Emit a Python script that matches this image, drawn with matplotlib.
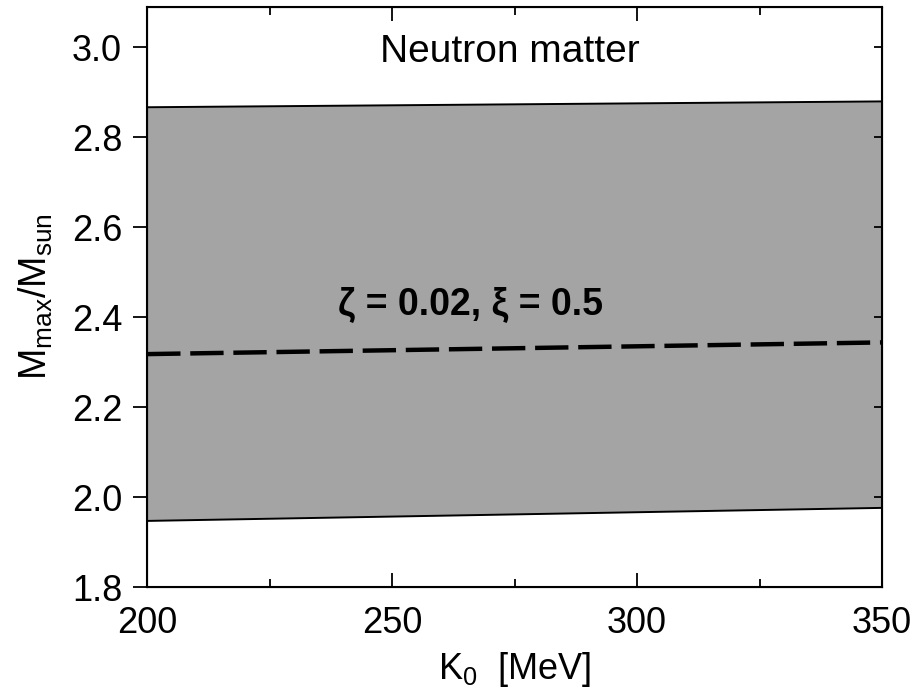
import matplotlib
matplotlib.use('Agg')
import matplotlib.pyplot as plt

plt.rcParams['font.family'] = ['Liberation Sans', 'DejaVu Sans']
plt.rcParams['mathtext.default'] = 'regular'

# values
k0 = [200, 350]
m_upper = [2.867, 2.880]
m_lower = [1.947, 1.976]
m_dashed = [2.318, 2.344]

x_ticks = [200, 250, 300, 350]
x_minor = [225, 275, 325]
y_ticks = [1.8, 2.0, 2.2, 2.4, 2.6, 2.8, 3.0]

fig = plt.figure(figsize=(9.14, 6.98), dpi=100)
ax = fig.add_axes([0.161, 0.159, 0.804, 0.831])

# shaded band
ax.fill_between(k0, m_lower, m_upper, facecolor='#a4a4a4', edgecolor='none', zorder=1)
ax.plot(k0, m_upper, color='black', lw=1.4, zorder=2)
ax.plot(k0, m_lower, color='black', lw=1.4, zorder=2)

# dashed curve
ax.plot(k0, m_dashed, color='black', lw=3.2, dashes=(7.5, 2.2), zorder=3)

ax.text(274, 2.989, 'Neutron matter', fontsize=28, ha='center', va='center')
ax.text(266, 2.427, r'ζ = 0.02, ξ = 0.5', fontsize=27, ha='center', va='center',
        fontweight='bold', zorder=4)

ax.set_xlim(200, 350)
ax.set_ylim(1.8, 3.09)
ax.set_xticks(x_ticks)
ax.set_xticks(x_minor, minor=True)
ax.set_yticks(y_ticks)
ax.set_yticklabels([f'{v:.1f}' for v in y_ticks])

ax.tick_params(axis='x', which='major', direction='in', length=10, width=1.3,
               top=True, labelsize=26, pad=14)
ax.tick_params(axis='x', which='minor', direction='in', length=6, width=1.3, top=True)
ax.tick_params(axis='y', which='major', direction='out', length=10, width=1.3,
               labelsize=26, pad=8)
for s in ax.spines.values():
    s.set_linewidth(1.5)

# inward ticks on the right spine
ax2 = ax.twinx()
ax2.set_ylim(ax.get_ylim())
ax2.set_yticks(y_ticks)
ax2.tick_params(axis='y', direction='in', length=6, width=1.3, labelright=False)

ax.set_xlabel('$K_0$  [MeV]', fontsize=26, labelpad=6)
ax.set_ylabel('$M_{max}/M_{sun}$', fontsize=27, labelpad=12)

fig.savefig('out.png', dpi=100)
